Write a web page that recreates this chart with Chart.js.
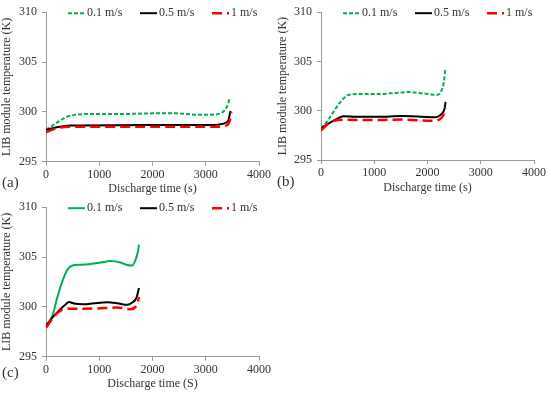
<!DOCTYPE html>
<html>
<head>
<meta charset="utf-8">
<script src="https://cdn.jsdelivr.net/npm/chart.js@4.4.1/dist/chart.umd.min.js"></script>
<style>
  body { margin: 0; background: #fff; }
  canvas { position: absolute; }
</style>
</head>
<body>
<canvas id="chartA" width="275" height="197" style="left:0;top:0"></canvas>
<canvas id="chartB" width="275" height="197" style="left:275px;top:0"></canvas>
<canvas id="chartC" width="275" height="199" style="left:0;top:195px"></canvas>
<script>
// Series labels
const seriesNames = ["0.1 m/s", "0.5 m/s", "1 m/s"];
const xTicks = [0, 1000, 2000, 3000, 4000];
const yTicks = [295, 300, 305, 310];

// (a)
const timeA01 = [0, 200, 390, 545, 760, 1390, 2010, 2450, 2830, 3080, 3260, 3360, 3420, 3450];
const tempA01 = [298.2, 298.9, 299.5, 299.7, 299.78, 299.78, 299.85, 299.85, 299.72, 299.72, 299.82, 300.2, 300.8, 301.4];
const timeA05 = [0, 200, 450, 1400, 2200, 3140, 3320, 3420, 3465];
const tempA05 = [298.2, 298.45, 298.63, 298.66, 298.68, 298.67, 298.8, 299.1, 300.1];
const timeA1 = [0, 200, 450, 1400, 2400, 3200, 3390, 3450, 3480];
const tempA1 = [297.95, 298.35, 298.5, 298.5, 298.5, 298.5, 298.65, 299.1, 300.0];

// (b)
const timeB01 = [0, 140, 260, 390, 510, 700, 1080, 1390, 1640, 1830, 2010, 2170, 2260, 2310, 2335];
const tempB01 = [298.2, 299.1, 300.1, 301.05, 301.6, 301.7, 301.7, 301.8, 301.9, 301.8, 301.7, 301.6, 302.0, 303.0, 304.3];
const timeB05 = [0, 140, 290, 420, 640, 1080, 1510, 1890, 2140, 2260, 2320, 2340];
const tempB05 = [298.2, 298.7, 299.15, 299.45, 299.4, 299.38, 299.47, 299.4, 299.33, 299.65, 300.2, 300.9];
const timeB1 = [0, 140, 260, 500, 1000, 1500, 2100, 2260, 2310, 2335];
const tempB1 = [298.0, 298.7, 299.0, 299.08, 299.05, 299.1, 298.98, 299.25, 299.75, 300.3];

// (c)
const timeC01 = [0, 120, 210, 310, 400, 495, 650, 840, 1025, 1210, 1400, 1525, 1620, 1680, 1725, 1745];
const tempC01 = [298.0, 299.1, 300.9, 302.6, 303.7, 304.15, 304.22, 304.3, 304.45, 304.6, 304.45, 304.2, 304.15, 304.7, 305.5, 306.25];
const timeC05 = [0, 100, 210, 340, 430, 525, 710, 900, 1150, 1340, 1525, 1620, 1700, 1745];
const tempC05 = [298.1, 298.8, 299.45, 300.1, 300.5, 300.33, 300.26, 300.36, 300.46, 300.36, 300.2, 300.43, 300.92, 301.9];
const timeC1 = [0, 120, 210, 370, 590, 960, 1340, 1590, 1680, 1725, 1745];
const tempC1 = [297.9, 298.8, 299.37, 299.84, 299.8, 299.84, 299.93, 299.77, 300.0, 300.5, 301.0];

const FONT = "'Liberation Serif', 'Times New Roman', serif";
const FSIZE = 12;
const TEXT = "#333";
const AXIS = "#9a9a9a";

function pts(xs, ys) {
  return xs.map((x, i) => ({ x: x, y: ys[i] }));
}

// Legend drawn across the top of the plot area, plus the panel letter
const lineLegend = {
  id: "lineLegend",
  afterDraw(chart) {
    const ctx = chart.ctx;
    const area = chart.chartArea;
    const offs = [22, 94, 166];
    const y = area.top + 1;
    ctx.save();
    chart.data.datasets.forEach((ds, i) => {
      const x = area.left + offs[i];
      ctx.beginPath();
      ctx.strokeStyle = ds.borderColor;
      ctx.lineWidth = ds.borderWidth;
      ctx.setLineDash(ds.borderDash || []);
      ctx.moveTo(x, y);
      ctx.lineTo(x + 17, y);
      ctx.stroke();
      ctx.setLineDash([]);
      ctx.fillStyle = TEXT;
      ctx.font = FSIZE + "px " + FONT;
      ctx.textBaseline = "middle";
      ctx.textAlign = "left";
      ctx.fillText(ds.label, x + 19, y);
    });
    const p = chart.options.plugins.panelTag;
    ctx.font = "15px " + FONT;
    ctx.fillStyle = TEXT;
    ctx.fillText(p.text, p.x, p.y);
    ctx.restore();
  }
};

function makeChart(id, sets, opts) {
  const styles = [
    { borderColor: "#00b050", borderWidth: 2, borderDash: opts.greenDash },
    { borderColor: "#000000", borderWidth: 2, borderDash: [] },
    { borderColor: "#ff0000", borderWidth: 2.5, borderDash: [10, 5] }
  ];
  const datasets = sets.map((s, i) => Object.assign({
    label: seriesNames[i],
    data: pts(s[0], s[1]),
    pointRadius: 0,
    cubicInterpolationMode: "monotone",
    fill: false,
    order: 2 - i
  }, styles[i]));

  return new Chart(document.getElementById(id), {
    type: "line",
    data: { datasets: datasets },
    options: {
      responsive: false,
      animation: false,
      layout: { padding: { top: opts.top, right: 16, bottom: 0, left: 0 } },
      plugins: {
        legend: { display: false },
        tooltip: { enabled: false },
        panelTag: opts.tag
      },
      scales: {
        x: {
          type: "linear",
          min: 0,
          max: 4000,
          afterBuildTicks: (s) => { s.ticks = xTicks.map(v => ({ value: v })); },
          afterFit: (s) => { s.height = opts.xHeight; },
          grid: { drawOnChartArea: false, tickLength: 4, color: AXIS },
          border: { color: AXIS },
          ticks: { color: TEXT, padding: 2, maxRotation: 0, callback: (v) => String(v),
                   font: { family: FONT, size: FSIZE } },
          title: {
            display: true,
            text: opts.xTitle,
            color: TEXT,
            padding: { top: 0, bottom: opts.xTitlePad },
            font: { family: FONT, size: FSIZE }
          }
        },
        y: {
          min: 295,
          max: 310,
          afterBuildTicks: (s) => { s.ticks = yTicks.map(v => ({ value: v })); },
          afterFit: (s) => { s.width = 46; },
          grid: { drawOnChartArea: false, tickLength: 4, color: AXIS },
          border: { color: AXIS },
          ticks: { color: TEXT, padding: 5, callback: (v) => String(v),
                   font: { family: FONT, size: FSIZE } },
          title: {
            display: true,
            text: "LIB module temperature (K)",
            color: TEXT,
            padding: { top: opts.yTitlePad, bottom: 0 },
            font: { family: FONT, size: FSIZE }
          }
        }
      }
    },
    plugins: [lineLegend]
  });
}

makeChart("chartA",
  [[timeA01, tempA01], [timeA05, tempA05], [timeA1, tempA1]],
  { greenDash: [4, 2], top: 11.7, xHeight: 35.3, xTitle: "Discharge time (s)", xTitlePad: 1, yTitlePad: 0,
    tag: { text: "(a)", x: 2, y: 183 } });

makeChart("chartB",
  [[timeB01, tempB01], [timeB05, tempB05], [timeB1, tempB1]],
  { greenDash: [4, 2], top: 10, xHeight: 37, xTitle: "Discharge time (s)", xTitlePad: 2.4, yTitlePad: 1,
    tag: { text: "(b)", x: 2, y: 182 } });

makeChart("chartC",
  [[timeC01, tempC01], [timeC05, tempC05], [timeC1, tempC1]],
  { greenDash: [], top: 10.7, xHeight: 37.3, xTitle: "Discharge time (S)", xTitlePad: 3.4, yTitlePad: 0,
    tag: { text: "(c)", x: 2, y: 178 } });
</script>
</body>
</html>
